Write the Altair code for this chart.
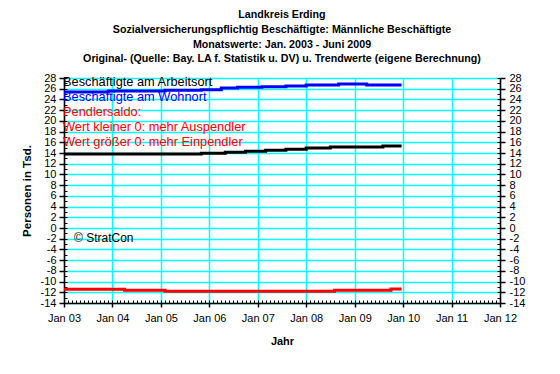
import altair as alt
import pandas as pd

# ---- data (step-wise trend values, Tsd.) ----
arbeitsort_dates = ["2003-01-01", "2005-11-01", "2006-05-01", "2006-10-01", "2007-03-01",
                    "2007-08-01", "2008-01-01", "2008-07-01", "2009-08-01", "2009-12-20"]
arbeitsort_vals = [13.8, 13.95, 14.13, 14.32, 14.5, 14.69, 14.93, 15.12, 15.3, 15.3]

wohnort_dates = ["2003-01-01", "2003-12-01", "2005-02-01", "2005-11-01", "2006-04-01", "2006-08-01",
                 "2007-02-01", "2007-08-01", "2008-01-01", "2008-09-01", "2009-04-01", "2009-12-20"]
wohnort_vals = [25.4, 25.58, 25.7, 25.83, 26.13, 26.26, 26.39, 26.5, 26.7, 26.88, 26.7, 26.7]

saldo_dates = ["2003-01-01", "2004-04-01", "2005-02-01", "2008-08-01", "2009-10-01", "2009-12-20"]
saldo_vals = [-11.44, -11.63, -11.82, -11.63, -11.37, -11.37]

series_names = ["Beschäftigte am Arbeitsort", "Beschäftigte am Wohnort", "Pendlersaldo"]
series_colors = ["#000000", "#0000FF", "#FF0000"]

note_texts = ["Beschäftigte am Arbeitsort", "Beschäftigte am Wohnort", "Pendlersaldo:",
              "Wert kleiner 0: mehr Auspendler", "Wert größer 0: mehr Einpendler"]
note_colors = ["#000000", "#0000FF", "#FF0000", "#FF0000", "#FF0000"]

title_lines = ["Landkreis Erding",
               "Sozialversicherungspflichtig Beschäftigte: Männliche Beschäftigte",
               "Monatswerte: Jan. 2003 - Juni 2009",
               "Original- (Quelle: Bay. LA f. Statistik u. DV) u. Trendwerte (eigene Berechnung)"]

year_ticks = list(range(2003, 2013))
y_ticks = list(range(-14, 29, 2))
y_minor = list(range(-14, 29, 1))

rows = []
for name, ds, vs in zip(series_names,
                        [arbeitsort_dates, wohnort_dates, saldo_dates],
                        [arbeitsort_vals, wohnort_vals, saldo_vals]):
    for d, v in zip(ds, vs):
        rows.append({"serie": name, "date": d, "value": v})
df = pd.DataFrame(rows)

notes = pd.DataFrame({"text": note_texts, "color": note_colors, "i": list(range(len(note_texts)))})

FONT = "Liberation Sans"
W, H = 436, 225

xs = alt.Scale(type="utc",
               domain=[alt.DateTime(year=2003, month=1, date=1, utc=True),
                       alt.DateTime(year=2012, month=1, date=1, utc=True)])
ys = alt.Scale(domain=[-14, 28], nice=False, zero=False)

jan_values = [alt.DateTime(year=y, month=1, date=1, utc=True) for y in year_ticks]
month_values = [alt.DateTime(year=y, month=m, date=1, utc=True)
                for y in range(2003, 2012) for m in range(1, 13)]

x_main = alt.X("date:T", scale=xs,
               axis=alt.Axis(orient="bottom", values=jan_values, format="Jan %y",
                             grid=True, gridColor="#00FFFF", gridWidth=1.5,
                             domainColor="#000000", domainWidth=1.5,
                             tickColor="#000000", tickSize=4, tickWidth=1.5,
                             labelFont=FONT, labelFontSize=11, labelColor="#000000",
                             labelPadding=5, labelFlush=False, labelOverlap=False,
                             title="Jahr", titleFont=FONT, titleFontSize=11,
                             titleFontWeight="bold", titleColor="#000000", titlePadding=12))
y_main = alt.Y("value:Q", scale=ys,
               axis=alt.Axis(orient="left", values=y_ticks, grid=True, gridColor="#00FFFF",
                             gridWidth=1.5, domainColor="#000000", domainWidth=1.5,
                             tickColor="#000000", tickSize=5, tickWidth=1.5,
                             labelFont=FONT, labelFontSize=11, labelColor="#000000",
                             labelPadding=3, labelFlush=False, labelOverlap=False,
                             labelExpr="datum.value + ''",
                             title="Personen in Tsd.", titleFont=FONT, titleFontSize=11.5,
                             titleFontWeight="bold", titleColor="#000000", titlePadding=8))

lines = alt.Chart(df).mark_line(interpolate="step-after", strokeWidth=3).encode(
    x=x_main, y=y_main,
    color=alt.Color("serie:N", scale=alt.Scale(domain=series_names, range=series_colors), legend=None),
)

zero = alt.Chart(df).mark_rule(color="#000000", strokeWidth=3).encode(
    y=alt.Y("z:Q", scale=ys, axis=alt.Axis(orient="right", values=y_ticks, grid=False,
                                            domainColor="#000000", domainWidth=1.5,
                                            tickColor="#000000", tickSize=5, tickWidth=1.5,
                                            labelFont=FONT, labelFontSize=11, labelColor="#000000",
                                            labelPadding=4, labelFlush=False, labelOverlap=False,
                                            labelExpr="datum.value + ''", title=None))
).transform_calculate(z="0").transform_filter("datum.date == '2003-01-01' && datum.serie == 'Pendlersaldo'")

minor_left = alt.Chart(df).mark_point(opacity=0).encode(
    y=alt.Y("value:Q", scale=ys, axis=alt.Axis(orient="left", values=y_minor, offset=-3, domain=False,
                                                labels=False, grid=False, tickColor="#000000",
                                                tickSize=3, tickWidth=1, title=None))
)
minor_right = alt.Chart(df).mark_point(opacity=0).encode(
    y=alt.Y("value:Q", scale=ys, axis=alt.Axis(orient="right", values=y_minor, offset=-3, domain=False,
                                                labels=False, grid=False, tickColor="#000000",
                                                tickSize=3, tickWidth=1, title=None))
)
minor_bottom = alt.Chart(df).mark_point(opacity=0).encode(
    x=alt.X("date:T", scale=xs, axis=alt.Axis(orient="bottom", values=month_values, offset=-3,
                                               domain=False, labels=False, grid=False,
                                               tickColor="#000000", tickSize=3, tickWidth=1,
                                               title=None))
)

note_layer = alt.Chart(notes).mark_text(align="left", baseline="alphabetic", font=FONT,
                                        fontSize=12.8, dx=-1).encode(
    x=alt.value(0),
    y=alt.Y("i:O", scale=alt.Scale(type="point", domain=list(range(len(note_texts))),
                                   range=[8, 68], padding=0), axis=None),
    text="text:N",
    color=alt.Color("color:N", scale=None),
)

copyright_layer = alt.Chart(notes).mark_text(align="left", baseline="alphabetic", font=FONT,
                                             fontSize=12, text="© StratCon", color="#000000").encode(
    x=alt.value(10), y=alt.value(164)
).transform_filter("datum.i == 0")

chart = alt.layer(zero, lines, minor_left, minor_right, minor_bottom, note_layer, copyright_layer).resolve_scale(
    y="independent"
).resolve_axis(y="independent", x="independent").properties(
    width=W, height=H,
    autosize=alt.AutoSizeParams(type="none"),
    title=alt.TitleParams(text=title_lines, font=FONT, fontSize=10.7, fontWeight="bold",
                          color="#000000", lineHeight=14.7, anchor="middle", offset=7),
    padding={"left": 56, "top": 70, "right": 52, "bottom": 60},
).configure_view(fill="#C0C0C0", stroke="#808080", strokeWidth=1).configure(
    background="#FFFFFF"
)

chart.save("out.html", embed_options={"renderer": "svg", "actions": False})
